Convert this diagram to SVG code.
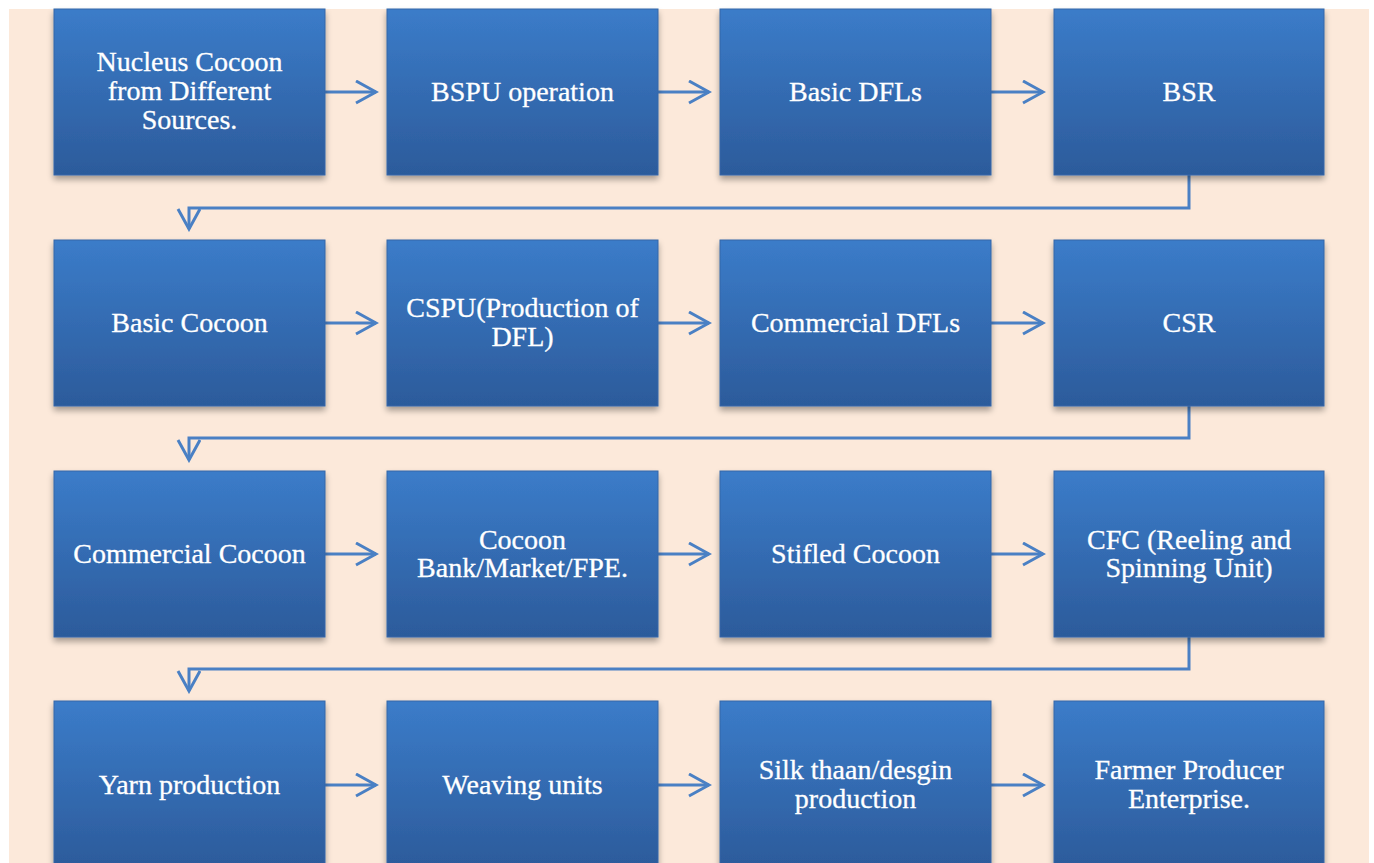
<svg xmlns="http://www.w3.org/2000/svg" width="1374" height="863" viewBox="0 0 1374 863">
<defs>
<linearGradient id="g" x1="0" y1="0" x2="0" y2="1">
<stop offset="0" stop-color="#3b7cc9"/>
<stop offset="1" stop-color="#2c5b9b"/>
</linearGradient>
<filter id="sh" x="-10%" y="-10%" width="120%" height="125%">
<feGaussianBlur in="SourceAlpha" stdDeviation="3"/>
<feOffset dx="0" dy="4" result="b"/>
<feComponentTransfer><feFuncA type="linear" slope="0.35"/></feComponentTransfer>
<feMerge><feMergeNode/><feMergeNode in="SourceGraphic"/></feMerge>
</filter>
<marker id="ar" markerWidth="24" markerHeight="26" refX="21" refY="12" orient="auto" markerUnits="userSpaceOnUse">
<path d="M1,1 L21,12 L1,23" fill="none" stroke="#4a80c4" stroke-width="3"/>
</marker>
<style>
.box{fill:url(#g);stroke:#3567a8;stroke-width:1;filter:url(#sh)}
.t{font-family:"Liberation Serif","DejaVu Serif",serif;font-size:28px;fill:#ffffff;stroke:#ffffff;stroke-width:0.3;text-anchor:middle}
.c{fill:none;stroke:#4a80c4;stroke-width:3}
</style>
</defs>
<rect x="0" y="0" width="1374" height="863" fill="#ffffff"/>
<rect x="9" y="9" width="1360" height="854" fill="#fce9da"/>

<g id="connectors">
<path class="c" d="M325,92 H376" marker-end="url(#ar)"/>
<path class="c" d="M658,92 H709" marker-end="url(#ar)"/>
<path class="c" d="M991,92 H1043" marker-end="url(#ar)"/>
<path class="c" d="M325,323 H376" marker-end="url(#ar)"/>
<path class="c" d="M658,323 H709" marker-end="url(#ar)"/>
<path class="c" d="M991,323 H1043" marker-end="url(#ar)"/>
<path class="c" d="M325,554 H376" marker-end="url(#ar)"/>
<path class="c" d="M658,554 H709" marker-end="url(#ar)"/>
<path class="c" d="M991,554 H1043" marker-end="url(#ar)"/>
<path class="c" d="M325,785 H376" marker-end="url(#ar)"/>
<path class="c" d="M658,785 H709" marker-end="url(#ar)"/>
<path class="c" d="M991,785 H1043" marker-end="url(#ar)"/>
<path class="c" d="M1189,175 V208 H189 V229" marker-end="url(#ar)"/>
<path class="c" d="M1189,406 V438 H189 V460" marker-end="url(#ar)"/>
<path class="c" d="M1189,637 V669 H189 V691" marker-end="url(#ar)"/>
</g>

<g id="n1"><rect class="box" x="54" y="9" width="271" height="166"/><text class="t" x="189.5" y="71">Nucleus Cocoon</text><text class="t" x="189.5" y="100">from Different</text><text class="t" x="189.5" y="129">Sources.</text></g>
<g id="n2"><rect class="box" x="387" y="9" width="271" height="166"/><text class="t" x="522.5" y="101">BSPU operation</text></g>
<g id="n3"><rect class="box" x="720" y="9" width="271" height="166"/><text class="t" x="855.5" y="101">Basic DFLs</text></g>
<g id="n4"><rect class="box" x="1054" y="9" width="270" height="166"/><text class="t" x="1189" y="101">BSR</text></g>

<g id="n5"><rect class="box" x="54" y="240" width="271" height="166"/><text class="t" x="189.5" y="332">Basic Cocoon</text></g>
<g id="n6"><rect class="box" x="387" y="240" width="271" height="166"/><text class="t" x="522.5" y="317">CSPU(Production of</text><text class="t" x="522.5" y="346">DFL)</text></g>
<g id="n7"><rect class="box" x="720" y="240" width="271" height="166"/><text class="t" x="855.5" y="332">Commercial DFLs</text></g>
<g id="n8"><rect class="box" x="1054" y="240" width="270" height="166"/><text class="t" x="1189" y="332">CSR</text></g>

<g id="n9"><rect class="box" x="54" y="471" width="271" height="166"/><text class="t" x="189.5" y="563">Commercial Cocoon</text></g>
<g id="n10"><rect class="box" x="387" y="471" width="271" height="166"/><text class="t" x="522.5" y="549">Cocoon</text><text class="t" x="522.5" y="577">Bank/Market/FPE.</text></g>
<g id="n11"><rect class="box" x="720" y="471" width="271" height="166"/><text class="t" x="855.5" y="563">Stifled Cocoon</text></g>
<g id="n12"><rect class="box" x="1054" y="471" width="270" height="166"/><text class="t" x="1189" y="549">CFC (Reeling and</text><text class="t" x="1189" y="577">Spinning Unit)</text></g>

<g id="n13"><rect class="box" x="54" y="701" width="271" height="166"/><text class="t" x="189.5" y="794">Yarn production</text></g>
<g id="n14"><rect class="box" x="387" y="701" width="271" height="166"/><text class="t" x="522.5" y="794">Weaving units</text></g>
<g id="n15"><rect class="box" x="720" y="701" width="271" height="166"/><text class="t" x="855.5" y="779">Silk thaan/desgin</text><text class="t" x="855.5" y="808">production</text></g>
<g id="n16"><rect class="box" x="1054" y="701" width="270" height="166"/><text class="t" x="1189" y="779">Farmer Producer</text><text class="t" x="1189" y="808">Enterprise.</text></g>
</svg>
